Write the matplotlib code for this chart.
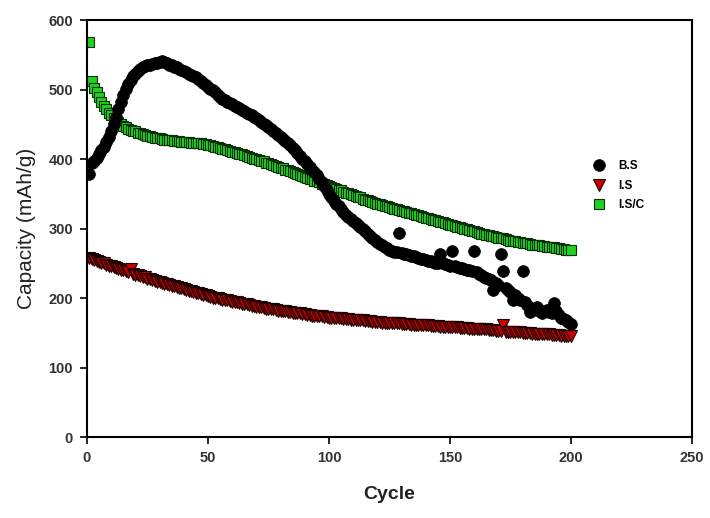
import matplotlib.pyplot as plt
import numpy as np

plt.rcParams['font.family'] = ['Liberation Sans', 'DejaVu Sans']

cycle = np.arange(1, 201)

# B.S
bs = [378, 395, 398, 402, 407, 413, 418, 425, 432, 440,
      450, 461, 472, 483, 493, 501, 508, 514, 519, 523,
      527, 530, 532, 534, 535, 536, 537, 538, 539, 540,
      541, 540, 538, 536, 535, 533, 532, 530, 528, 527,
      525, 523, 521, 519, 518, 516, 513, 510, 507, 504,
      501, 499, 496, 493, 490, 487, 485, 483, 481, 479,
      477, 475, 473, 471, 469, 467, 465, 463, 461, 459,
      456, 454, 451, 449, 446, 443, 441, 438, 435, 432,
      429, 426, 423, 420, 416, 413, 409, 405, 401, 397,
      393, 389, 385, 381, 377, 372, 367, 362, 356, 350,
      345, 340, 336, 332, 328, 324, 320, 317, 314, 311,
      308, 305, 302, 299, 296, 293, 290, 287, 284, 281,
      278, 276, 274, 272, 270, 268, 267, 266, 294, 265,
      264, 263, 262, 261, 260, 259, 258, 257, 256, 255,
      254, 253, 252, 251, 251, 264, 250, 249, 248, 247,
      268, 246, 245, 244, 243, 242, 241, 240, 239, 268,
      237, 235, 233, 231, 229, 228, 226, 212, 222, 219,
      263, 239, 215, 212, 209, 198, 204, 201, 198, 239,
      194, 190, 180, 184, 186, 188, 182, 178, 181, 183,
      180, 178, 193, 182, 176, 172, 170, 168, 166, 163]

# I.S
i_s = [258, 257, 255, 254, 252, 251, 250, 248, 247, 246,
       245, 243, 242, 241, 240, 239, 237, 242, 235, 234,
       233, 232, 231, 230, 228, 227, 226, 225, 224, 223,
       222, 221, 220, 219, 218, 217, 216, 215, 214, 213,
       212, 211, 210, 209, 208, 207, 206, 205, 204, 203,
       202, 201, 201, 200, 199, 198, 197, 197, 196, 195,
       194, 194, 193, 192, 191, 191, 190, 189, 189, 188,
       187, 187, 186, 185, 185, 184, 184, 183, 182, 182,
       181, 181, 180, 180, 179, 179, 178, 178, 177, 177,
       176, 176, 175, 175, 174, 174, 174, 173, 173, 172,
       172, 172, 171, 171, 171, 170, 170, 170, 169, 169,
       169, 168, 168, 168, 167, 167, 167, 166, 166, 166,
       166, 165, 165, 165, 165, 164, 164, 164, 164, 163,
       163, 163, 163, 162, 162, 162, 162, 161, 161, 161,
       161, 160, 160, 160, 160, 159, 159, 159, 159, 158,
       158, 158, 158, 157, 157, 157, 157, 156, 156, 156,
       156, 155, 155, 155, 155, 154, 154, 154, 153, 153,
       153, 162, 152, 152, 152, 151, 151, 151, 151, 150,
       150, 150, 150, 149, 149, 149, 149, 148, 148, 148,
       148, 147, 147, 147, 147, 146, 146, 146, 146, 145]

# I.S/C
isc = [568, 512, 503, 496, 489, 483, 477, 472, 467, 463,
       459, 456, 453, 450, 448, 446, 444, 442, 441, 440,
       438, 437, 436, 435, 434, 433, 432, 431, 430, 430,
       429, 428, 428, 427, 427, 426, 426, 426, 425, 425,
       425, 425, 424, 424, 424, 423, 423, 422, 422, 421,
       420, 419, 418, 417, 416, 415, 414, 413, 412, 411,
       410, 409, 408, 407, 406, 404, 403, 402, 401, 400,
       399, 398, 397, 395, 394, 393, 392, 390, 389, 388,
       387, 385, 384, 383, 381, 380, 379, 377, 376, 375,
       373, 372, 371, 369, 368, 367, 365, 364, 363, 361,
       360, 359, 357, 356, 355, 353, 352, 351, 350, 348,
       347, 346, 345, 343, 342, 341, 340, 339, 337, 336,
       335, 334, 333, 332, 331, 330, 329, 328, 327, 326,
       325, 324, 323, 322, 321, 320, 319, 318, 317, 316,
       315, 314, 313, 312, 311, 310, 309, 308, 307, 306,
       305, 304, 303, 302, 301, 300, 299, 298, 297, 296,
       295, 294, 293, 292, 291, 291, 290, 289, 288, 287,
       286, 286, 285, 284, 283, 283, 282, 281, 281, 280,
       279, 279, 278, 277, 277, 276, 276, 275, 275, 274,
       274, 273, 273, 272, 272, 271, 271, 270, 270, 269]

fig = plt.figure(figsize=(7.1, 5.18), dpi=100)
ax = fig.add_axes([0.1225, 0.156, 0.852, 0.805])

ax.plot(cycle, bs, 'o', color='black', markersize=8.5, markeredgecolor='black',
        markeredgewidth=0.5, label='B.S', zorder=3)
ax.plot(cycle, i_s, 'v', color='#c80000', markersize=8.5, markeredgecolor='#1a0000',
        markeredgewidth=0.8, label='I.S', zorder=2)
ax.plot(cycle, isc, 's', color='#1ed21e', markersize=7.5, markeredgecolor='#0b2e0b',
        markeredgewidth=0.8, label='I.S/C', zorder=2)

ax.set_xlim(0, 250)
ax.set_ylim(0, 600)
ax.set_xticks([0, 50, 100, 150, 200, 250])
ax.set_yticks([0, 100, 200, 300, 400, 500, 600])

for s in ax.spines.values():
    s.set_linewidth(1.5)
ax.tick_params(direction='out', length=5, width=1.2, labelsize=10.5,
               labelcolor='#333333', pad=5)
for lab in ax.get_xticklabels() + ax.get_yticklabels():
    lab.set_fontweight('bold')

ax.set_xlabel('Cycle', fontsize=14, fontweight='bold', labelpad=15, color='#222222')
ax.set_ylabel('Capacity (mAh/g)', fontsize=15, labelpad=9, color='#222222')

leg = ax.legend(loc='upper left', bbox_to_anchor=(0.81, 0.69), frameon=False,
                fontsize=8.5, handletextpad=0.6, labelspacing=0.65, markerscale=1.0)
for t in leg.get_texts():
    t.set_fontweight('bold')

fig.savefig('out.png', dpi=100)
